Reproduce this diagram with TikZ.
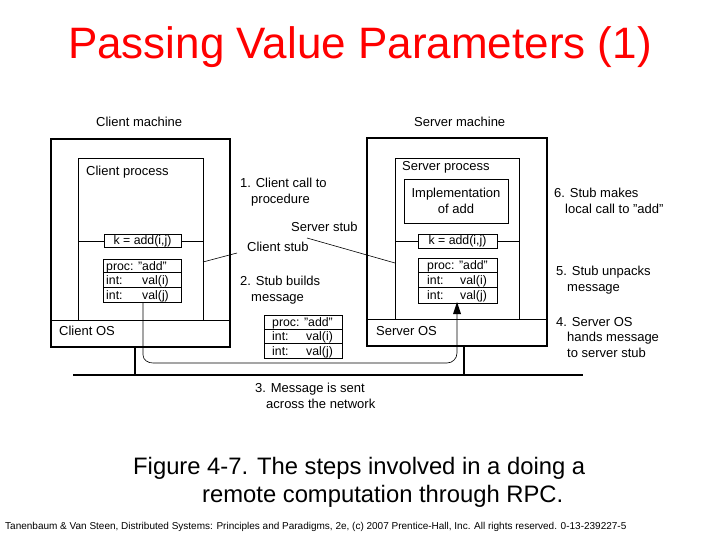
\documentclass[tikz,border=0pt]{standalone}
\usepackage{fontspec}
\setmainfont{Liberation Sans}
\newcommand{\qq}{\symbol{34}}
\begin{document}
\begin{tikzpicture}[x=1pt,y=-1pt,
 box/.style={draw,line width=1.2pt},
 thin/.style={draw,line width=0.6pt},
 lbl/.style={font=\fontsize{13}{15.5}\selectfont,align=left,anchor=north west,inner sep=0pt},
 cell/.style={font=\fontsize{12.3}{13}\selectfont,inner sep=0pt,anchor=base west}]
\useasboundingbox (0,0) rectangle (720,540);
\node[text=red,font=\fontsize{44}{46}\selectfont] (title) at (360,47) {Passing Value Parameters (1)};
% client machine
\node[lbl] (cm) at (96,117) {Client machine};
\draw[box] (51,139) rectangle (230,347);
\draw[thin] (51,320) -- (230,320);
\node[lbl] (cos) at (59,326) {Client OS};
\draw[thin] (78,320) -- (78,158) -- (203,158) -- (203,320);
\node[lbl] (cp) at (86,166) {Client process};
\draw[thin] (78,241) -- (104,241) (181,241) -- (203,241);
\node[thin,minimum width=77pt,minimum height=13pt,inner sep=0pt,font=\fontsize{12.3}{13}\selectfont] (ck) at (142.5,241) {k = add(i,j)};
\draw[thin] (103,259) rectangle (181,302);
\draw[thin] (103,272) -- (181,272) (103,287) -- (181,287);
\node[cell] at (106,270) {proc: \qq add\qq};
\node[cell] at (106,284) {int:};
\node[cell] at (142,284) {val(i)};
\node[cell] at (106,299) {int:};
\node[cell] at (142,299) {val(j)};
% server machine
\node[lbl] (sm) at (414,117) {Server machine};
\draw[box] (367,138) rectangle (547,346);
\draw[thin] (367,319) -- (547,319);
\node[lbl] (sos) at (376,326) {Server OS};
\draw[thin] (395,319) -- (395,158) -- (519,158) -- (519,319);
\node[lbl] (sp) at (402,161) {Server process};
\node[box,line width=0.9pt,minimum width=104pt,minimum height=44pt,font=\fontsize{13}{15.5}\selectfont,align=center] (impl) at (456,201) {Implementation\\of add};
\draw[thin] (395,241) -- (418,241) (497,241) -- (519,241);
\node[thin,minimum width=79pt,minimum height=14pt,inner sep=0pt,font=\fontsize{12.3}{13}\selectfont] (sk) at (457.5,241) {k = add(i,j)};
\draw[thin] (418,258) rectangle (497,303);
\draw[thin] (418,272) -- (497,272) (418,287) -- (497,287);
\node[cell] at (427,269.5) {proc: \qq add\qq};
\node[cell] at (427,284) {int:};
\node[cell] at (460,284) {val(i)};
\node[cell] at (427,299.5) {int:};
\node[cell] at (460,299.5) {val(j)};
% message in transit
\draw[thin] (264,315) rectangle (342,358);
\draw[thin] (264,329) -- (342,329) (264,343) -- (342,343);
\node[cell] at (272,326.5) {proc: \qq add\qq};
\node[cell] at (272,340.5) {int:};
\node[cell] at (306,340.5) {val(i)};
\node[cell] at (272,355.5) {int:};
\node[cell] at (306,355.5) {val(j)};
% network
\draw[line width=1.5pt] (73,375) -- (583,375);
\draw[line width=1.5pt] (135,347) -- (135,375);
\draw[line width=1.5pt] (464,346) -- (464,375);
\draw[thin] (143,303) -- (143,355) to[out=-90,in=180] (153,363) -- (447,363) to[out=0,in=-90] (457,353) -- (457,312);
\fill (457,302) -- (453,314) -- (461,314) -- cycle;
% labels
\node[lbl] (l1) at (240,178) {1. Client call to\\\hspace*{11pt}procedure};
\node[lbl] (ss) at (291,222) {Server stub};
\node[lbl] (cs) at (247,242) {Client stub};
\draw[thin] (203,262) -- (237,253);
\draw[thin] (307,238) -- (395,263);
\node[lbl] (l2) at (240,276) {2. Stub builds\\\hspace*{11pt}message};
\node[lbl] (l3) at (255,383) {3. Message is sent\\\hspace*{11pt}across the network};
\node[lbl] (l6) at (554,188) {6. Stub makes\\\hspace*{11pt}local call to \qq add\qq};
\node[lbl] (l5) at (556,266) {5. Stub unpacks\\\hspace*{11pt}message};
\node[lbl] (l4) at (556,317) {4. Server OS\\\hspace*{11pt}hands message\\\hspace*{11pt}to server stub};
% caption
\node[font=\fontsize{23.8}{28}\selectfont,align=left,anchor=north west,inner sep=0pt] (cap) at (133,457) {Figure 4-7. The steps involved in a doing a\\\hspace*{69pt}remote computation through RPC.};
\node[font=\fontsize{10}{11}\selectfont,anchor=west,inner sep=0pt] (foot) at (5,527) {Tanenbaum \& Van Steen, Distributed Systems: Principles and Paradigms, 2e, (c) 2007 Prentice-Hall, Inc. All rights reserved. 0-13-239227-5};
\end{tikzpicture}
\end{document}
